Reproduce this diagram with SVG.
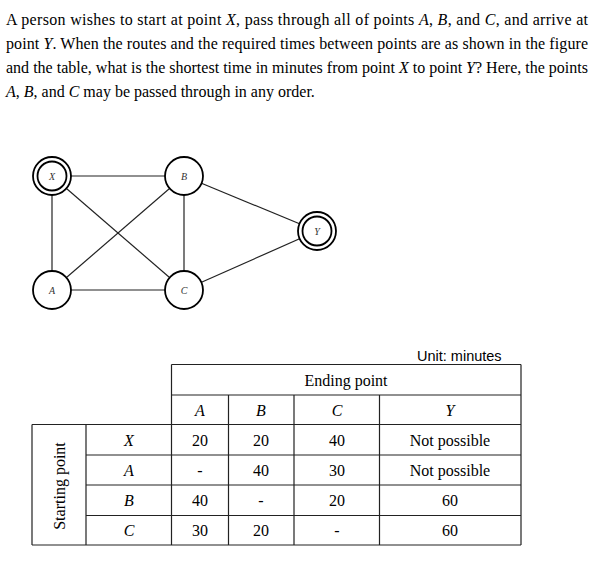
<svg xmlns="http://www.w3.org/2000/svg" width="602" height="562" viewBox="0 0 602 562">
<style>
.p{font-family:"Liberation Serif","Times New Roman",serif;font-size:16px;fill:#000}
.i{font-style:italic}
.nd{fill:#fff;stroke:#000;stroke-width:1.8}
.nl{font-family:"Liberation Serif",serif;font-style:italic;font-size:10px;fill:#333;text-anchor:middle}
.e{stroke:#222;stroke-width:1.2;fill:none}
.t{stroke:#222;stroke-width:1.2;fill:none}
.c{font-family:"Liberation Serif","Times New Roman",serif;font-size:16px;fill:#000;text-anchor:middle}
.u{font-family:"Liberation Sans",Arial,sans-serif;font-size:14.5px;fill:#000}
</style>
<rect width="602" height="562" fill="#fff"/>
<g id="question">
<text class="p" x="6" y="25" textLength="582" lengthAdjust="spacing">A person wishes to start at point <tspan class="i">X</tspan>, pass through all of points <tspan class="i">A</tspan>, <tspan class="i">B</tspan>, and <tspan class="i">C</tspan>, and arrive at</text>
<text class="p" x="6" y="49" textLength="582" lengthAdjust="spacing">point <tspan class="i">Y</tspan>. When the routes and the required times between points are as shown in the figure</text>
<text class="p" x="6" y="73" textLength="582" lengthAdjust="spacing">and the table, what is the shortest time in minutes from point <tspan class="i">X</tspan> to point <tspan class="i">Y</tspan>? Here, the points</text>
<text class="p" x="6" y="97"><tspan class="i">A</tspan>, <tspan class="i">B</tspan>, and <tspan class="i">C</tspan> may be passed through in any order.</text>
</g>
<g id="connectors">
<line class="e" x1="52" y1="176" x2="184" y2="176"/>
<line class="e" x1="52" y1="176" x2="52" y2="290"/>
<line class="e" x1="52" y1="176" x2="184" y2="290"/>
<line class="e" x1="52" y1="290" x2="184" y2="176"/>
<line class="e" x1="52" y1="290" x2="184" y2="290"/>
<line class="e" x1="184" y1="176" x2="184" y2="290"/>
<line class="e" x1="184" y1="176" x2="317" y2="231"/>
<line class="e" x1="184" y1="290" x2="317" y2="231"/>
</g>
<g id="node-X"><circle class="nd" cx="52" cy="176" r="19"/><circle class="nd" cx="52" cy="176" r="14.5"/><text class="nl" x="52" y="179.5">X</text></g>
<g id="node-B"><circle class="nd" cx="184" cy="176" r="19"/><text class="nl" x="184" y="179.5">B</text></g>
<g id="node-Y"><circle class="nd" cx="317" cy="231" r="19"/><circle class="nd" cx="317" cy="231" r="14.5"/><text class="nl" x="317" y="234.5">Y</text></g>
<g id="node-A"><circle class="nd" cx="52" cy="290" r="19"/><text class="nl" x="52" y="293.5">A</text></g>
<g id="node-C"><circle class="nd" cx="184" cy="290" r="19"/><text class="nl" x="184" y="293.5">C</text></g>
<g id="table">
<text class="u" x="417" y="361">Unit: minutes</text>
<path class="t" d="M171.5 364.5H521M171.5 395H521M32 424.5H521M86 455H521M86 485H521M86 515.5H521M32 545H521M32 424.5V545M86 424.5V545M171.5 364.5V545M228.5 395V545M294 395V545M379.5 395V545M521 364.5V545"/>
<text class="c" x="346" y="386">Ending point</text>
<text class="c" transform="translate(65 486) rotate(-90)">Starting point</text>
<g>
<text class="c i" x="200" y="416">A</text><text class="c i" x="261" y="416">B</text><text class="c i" x="337" y="416">C</text><text class="c i" x="450" y="416">Y</text>
<text class="c i" x="129" y="446">X</text><text class="c" x="200" y="446">20</text><text class="c" x="261" y="446">20</text><text class="c" x="337" y="446">40</text><text class="c" x="450" y="446">Not possible</text>
<text class="c i" x="129" y="476">A</text><text class="c" x="200" y="476">-</text><text class="c" x="261" y="476">40</text><text class="c" x="337" y="476">30</text><text class="c" x="450" y="476">Not possible</text>
<text class="c i" x="129" y="506">B</text><text class="c" x="200" y="506">40</text><text class="c" x="261" y="506">-</text><text class="c" x="337" y="506">20</text><text class="c" x="450" y="506">60</text>
<text class="c i" x="129" y="536">C</text><text class="c" x="200" y="536">30</text><text class="c" x="261" y="536">20</text><text class="c" x="337" y="536">-</text><text class="c" x="450" y="536">60</text>
</g>
</g>
</svg>
